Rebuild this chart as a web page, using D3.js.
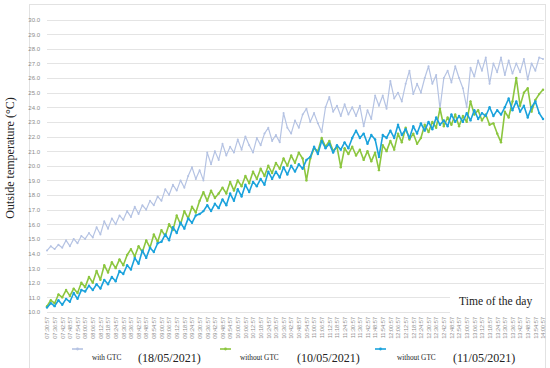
<!DOCTYPE html>
<html>
<head>
<meta charset="utf-8">
<script src="https://cdn.jsdelivr.net/npm/d3@7"></script>
<style>
body { margin: 0; background: #fff; }
</style>
</head>
<body>
<svg id="chart"></svg>
<script>
// one reading every 3 minutes, from 07:30:57 to 14:00:57
var stepMinutes = 3;

var withGTC = [
 14.2,14.5,14.3,14.6,14.4,14.9,14.5,15.0,14.7,15.2,
 15.0,15.4,15.1,15.8,15.3,16.2,15.7,16.4,16.0,16.6,
 16.3,16.9,16.5,17.2,16.7,17.3,17.0,17.6,17.3,17.9,
 17.6,18.4,18.0,18.7,18.3,19.0,18.5,19.3,19.9,19.1,
 19.7,19.0,20.9,20.1,21.0,20.4,21.5,20.7,21.3,20.9,
 21.8,21.1,22.0,21.4,20.9,21.9,21.4,22.2,22.6,21.7,
 22.1,21.6,23.6,22.6,22.2,23.1,22.6,23.5,23.9,23.0,
 23.6,22.9,22.3,24.0,24.7,23.7,24.1,23.4,24.2,23.5,
 24.0,23.4,24.1,22.7,23.8,23.2,24.8,24.1,24.8,23.9,
 25.8,24.6,25.0,24.4,25.6,26.5,24.9,25.6,25.0,26.0,
 26.8,25.6,26.2,23.9,26.0,26.5,25.7,26.8,26.0,25.3,
 24.0,26.7,26.1,27.2,26.5,27.4,25.6,27.0,26.4,27.4,
 26.2,27.2,26.3,27.0,26.4,27.3,25.9,27.0,26.5,27.4,
 27.3
];

var withoutGTC1005 = [
 10.4,10.8,10.6,11.2,11.0,11.5,11.1,11.6,11.3,12.0,
 11.7,12.4,12.0,12.8,12.2,13.2,12.7,13.4,13.0,13.6,
 13.2,13.9,14.3,13.8,14.5,14.1,14.9,14.4,15.3,14.8,
 15.6,15.2,16.0,15.6,16.6,16.0,16.9,16.4,17.2,16.8,
 17.6,18.2,17.6,18.3,17.8,18.1,18.5,18.1,18.9,18.3,
 19.0,18.6,19.3,18.8,19.6,19.1,19.8,19.3,20.0,19.5,
 20.2,19.8,20.5,20.0,20.7,20.2,20.9,20.5,19.0,20.5,
 21.2,21.0,21.9,21.3,21.7,21.0,21.3,19.9,21.2,20.8,
 21.3,20.7,21.1,20.4,21.0,20.3,20.9,19.7,21.4,21.0,
 21.7,21.1,22.2,21.6,22.6,21.8,22.2,21.5,21.9,22.8,
 22.3,23.0,22.6,23.9,22.7,23.3,22.8,23.5,22.7,23.4,
 23.0,24.4,23.5,23.8,23.1,23.5,22.8,22.9,22.2,21.6,
 23.7,23.3,24.4,26.0,24.1,25.0,25.3,23.7,24.5,24.9,
 25.2
];

var withoutGTC1105 = [
 10.3,10.6,10.4,10.8,10.5,10.9,10.7,11.3,10.9,11.5,
 11.4,11.8,11.5,11.9,11.6,12.2,11.9,12.4,12.1,12.8,
 12.6,13.2,12.9,13.7,13.3,14.2,13.7,14.4,14.1,14.7,
 14.8,15.3,14.9,15.8,15.4,16.1,15.7,16.4,16.1,16.6,
 16.7,16.9,17.3,16.9,17.4,17.1,17.7,17.3,18.1,17.6,
 18.4,17.9,18.7,18.2,18.9,18.6,19.1,18.7,19.6,19.1,
 19.6,19.2,19.9,19.4,20.0,19.6,20.1,19.8,20.4,20.6,
 21.3,20.8,21.7,21.2,21.5,20.9,21.4,21.1,21.6,21.2,
 21.9,22.4,21.9,22.2,21.5,22.1,21.8,20.6,22.1,21.9,
 22.4,21.9,22.8,22.1,22.5,21.9,22.7,22.2,22.9,22.4,
 23.0,22.5,23.3,22.8,23.1,22.7,23.5,23.0,23.4,23.0,
 23.6,23.1,23.8,23.2,23.6,23.4,24.0,23.4,23.8,23.5,
 24.0,24.6,23.8,24.4,23.7,24.1,23.3,24.0,24.4,23.6,
 23.2
];

var timeLabels = [
 "07:30:57","07:36:57","07:42:57","07:48:57","07:54:57",
 "08:00:57","08:06:57","08:12:57","08:18:57","08:24:57","08:30:57","08:36:57","08:42:57","08:48:57","08:54:57",
 "09:00:57","09:06:57","09:12:57","09:18:57","09:24:57","09:30:57","09:36:57","09:42:57","09:48:57","09:54:57",
 "10:00:57","10:06:57","10:12:57","10:18:57","10:24:57","10:30:57","10:36:57","10:42:57","10:48:57","10:54:57",
 "11:00:57","11:06:57","11:12:57","11:18:57","11:24:57","11:30:57","11:36:57","11:42:57","11:48:57","11:54:57",
 "12:00:57","12:06:57","12:12:57","12:18:57","12:24:57","12:30:57","12:36:57","12:42:57","12:48:57","12:54:57",
 "13:00:57","13:06:57","13:12:57","13:18:57","13:24:57","13:30:57","13:36:57","13:42:57","13:48:57","13:54:57",
 "14:00:57"
];
var labelStep = 6; // minutes between time labels

var yTicks = [10,11,12,13,14,15,16,17,18,19,20,21,22,23,24,25,26,27,28,29,30];

var seriesNames = ["with GTC", "without GTC", "without GTC"];
var seriesDates = ["(18/05/2021)", "(10/05/2021)", "(11/05/2021)"];
var seriesColors = ["#b5c3e3", "#8cc63f", "#1aa2dc"];
var seriesData = [withGTC, withoutGTC1005, withoutGTC1105];

var screen = {width:550, height:368};
var plot = {left:47, right:543, top:19.5, bottom:312};

var svg = d3.select("#chart")
    .attr("width", screen.width)
    .attr("height", screen.height);

// outer frame of the chart
svg.append("rect")
    .attr("x", 29.5).attr("y", 4.5)
    .attr("width", 516).attr("height", 380)
    .attr("fill", "none")
    .attr("stroke", "#e2e2e2");

var xScale = d3.scaleLinear()
    .domain([0, (timeLabels.length - 1) * labelStep])
    .range([plot.left, plot.right]);

var yScale = d3.scaleLinear()
    .domain([10, 30])
    .range([plot.bottom, plot.top]);

// horizontal grid
svg.append("g")
    .selectAll("line")
    .data(yTicks)
    .enter()
    .append("line")
    .attr("x1", plot.left)
    .attr("x2", plot.right + 1)
    .attr("y1", function(d){ return Math.round(yScale(d)) + 0.5; })
    .attr("y2", function(d){ return Math.round(yScale(d)) + 0.5; })
    .attr("stroke", "#e4e4e4");

// y axis labels
var yAxis = d3.axisLeft(yScale)
    .tickValues(yTicks)
    .tickFormat(d3.format(".1f"))
    .tickSize(0)
    .tickPadding(0);
var yg = svg.append("g")
    .attr("transform", "translate(40,0)")
    .call(yAxis);
yg.select(".domain").remove();
yg.selectAll("text")
    .attr("fill", "#8c8c8c")
    .style("font-family", "Liberation Sans, Arial, sans-serif")
    .style("font-size", "6px");

// x axis labels (rotated times)
var xAxis = d3.axisBottom(xScale)
    .tickValues(d3.range(timeLabels.length).map(function(i){ return i * labelStep; }))
    .tickFormat(function(d, i){ return timeLabels[i]; })
    .tickSize(0)
    .tickPadding(0);
var xg = svg.append("g")
    .attr("transform", "translate(0," + (plot.bottom + 5) + ")")
    .call(xAxis);
xg.select(".domain").remove();
xg.selectAll("text")
    .attr("transform", "rotate(-90)")
    .attr("text-anchor", "end")
    .attr("dy", "0.32em")
    .attr("x", 0).attr("y", 0)
    .attr("fill", "#8c8c8c")
    .style("font-family", "Liberation Sans, Arial, sans-serif")
    .style("font-size", "5.6px");

// series
var line = d3.line()
    .x(function(d, i){ return xScale(i * stepMinutes); })
    .y(function(d){ return yScale(d); });

seriesData.forEach(function(values, s)
{
    var g = svg.append("g");
    g.append("path")
        .datum(values)
        .attr("d", line)
        .attr("fill", "none")
        .attr("stroke", seriesColors[s])
        .attr("stroke-width", s == 0 ? 1.2 : 1.6)
        .attr("stroke-linejoin", "round");
    g.selectAll("circle")
        .data(values)
        .enter()
        .append("circle")
        .attr("cx", function(d, i){ return xScale(i * stepMinutes); })
        .attr("cy", function(d){ return yScale(d); })
        .attr("r", s == 0 ? 1.0 : 1.2)
        .attr("fill", seriesColors[s]);
});

// x axis title on a white box
svg.append("rect")
    .attr("x", 450).attr("y", 290)
    .attr("width", 94).attr("height", 26)
    .attr("fill", "#fff");
svg.append("text")
    .attr("x", 459).attr("y", 305)
    .style("font-family", "Liberation Serif, Times New Roman, serif")
    .style("font-size", "11.6px")
    .attr("fill", "#222")
    .text("Time of the day");

// y axis title
svg.append("text")
    .attr("transform", "translate(14,158) rotate(-90)")
    .attr("text-anchor", "middle")
    .style("font-family", "Liberation Serif, Times New Roman, serif")
    .style("font-size", "12px")
    .attr("fill", "#222")
    .text("Outside temperature (°C)");

// legend
var legendX = [72, 220, 375];
var legend = svg.append("g");
seriesNames.forEach(function(name, s)
{
    var x = legendX[s];
    legend.append("line")
        .attr("x1", x).attr("x2", x + 11)
        .attr("y1", 349).attr("y2", 349)
        .attr("stroke", seriesColors[s])
        .attr("stroke-width", 1.6);
    legend.append("circle")
        .attr("cx", x + 5.5).attr("cy", 349)
        .attr("r", 1.4)
        .attr("fill", seriesColors[s]);
    legend.append("text")
        .attr("x", x + (s == 2 ? 22 : 20)).attr("y", 360)
        .style("font-family", "Liberation Serif, Times New Roman, serif")
        .style("font-size", "7.3px")
        .attr("fill", "#222")
        .text(name);
});
var dateX = [138, 297, 453];
seriesDates.forEach(function(d, s)
{
    legend.append("text")
        .attr("x", dateX[s]).attr("y", 362)
        .style("font-family", "Liberation Serif, Times New Roman, serif")
        .style("font-size", "12px")
        .attr("fill", "#222")
        .text(d);
});
</script>
</body>
</html>
